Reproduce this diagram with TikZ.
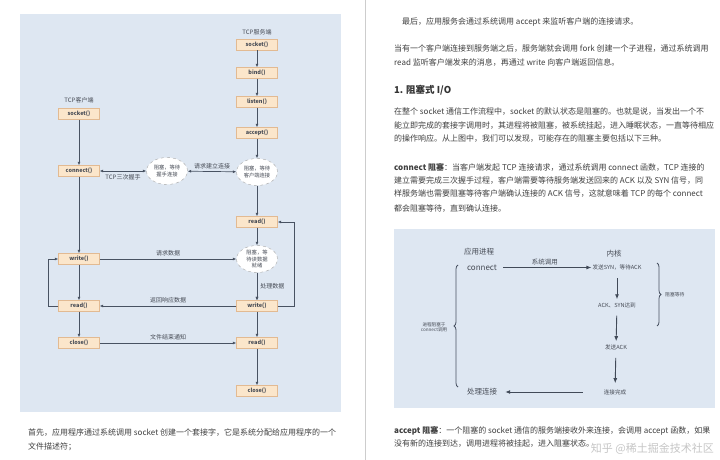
\documentclass[tikz,border=0pt]{standalone}
\usepackage{fontspec}
\setmainfont{Noto Sans CJK SC}
\usetikzlibrary{arrows.meta,positioning,shapes.geometric,decorations.pathreplacing}
\definecolor{diagbg}{RGB}{222,231,242}
\definecolor{boxfill}{RGB}{251,230,203}
\definecolor{boxline}{RGB}{226,186,146}
\definecolor{arrowc}{RGB}{72,82,98}
\definecolor{txtdark}{RGB}{70,75,85}
\definecolor{bodytxt}{RGB}{64,64,64}
\definecolor{pageline}{RGB}{205,205,205}

\begin{document}
\begin{tikzpicture}[x=1pt,y=-1pt,
  callbox/.style={draw=boxline,fill=boxfill,minimum width=41pt,minimum height=11pt,inner sep=0pt,
    font=\fontsize{5.5}{6}\selectfont\bfseries,text=txtdark},
  waitell/.style={ellipse,draw=gray!70,dashed,fill=white,minimum width=41pt,minimum height=27pt,
    inner sep=0pt,align=center,font=\fontsize{5.3}{6.2}\selectfont,text=txtdark},
  flow/.style={-{Latex[length=3.5pt,width=3pt]},draw=arrowc,line width=0.7pt},
  biflow/.style={{Latex[length=3.5pt,width=3pt]}-{Latex[length=3.5pt,width=3pt]},draw=arrowc,line width=0.7pt},
  bigflow/.style={-{Latex[length=5pt,width=4pt]},draw=arrowc!90!black,line width=0.9pt},
  lbl/.style={font=\fontsize{6}{7}\selectfont,text=txtdark,inner sep=1pt},
  klbl/.style={font=\fontsize{5.6}{6.5}\selectfont,text=txtdark,inner sep=1pt},
  para/.style={anchor=west,font=\fontsize{8}{10}\selectfont,text=bodytxt,inner sep=0pt},
  brace/.style={decorate,decoration={brace,amplitude=4pt},draw=arrowc,line width=0.8pt}]
\useasboundingbox (0,0) rectangle (720,460);
\fill[white] (0,0) rectangle (720,460);
\draw[pageline,line width=0.8pt] (365,0) -- (365,460);

% left page: socket flow
\fill[diagbg] (20,14) rectangle (341,412);
\node[lbl] (srvtitle) at (257,32) {TCP服务端};
\node[callbox] (ssock) at (257,44.5) {socket()};
\node[callbox] (sbind) at (257,73) {bind()};
\node[callbox] (slisten) at (257,102) {listen()};
\node[callbox] (saccept) at (257,133) {accept()};
\node[waitell] (swait1) at (257,172) {阻塞，等待\\客户端连接};
\node[callbox] (sread1) at (257,222) {read()};
\node[waitell] (swait2) at (257,259) {阻塞，等\\待读数据\\就绪};
\node[callbox] (swrite) at (257,306) {write()};
\node[callbox] (sread2) at (257,343) {read()};
\node[callbox] (sclose) at (257,391) {close()};

\node[lbl] (clititle) at (79,100) {TCP客户端};
\node[callbox] (csock) at (79,114) {socket()};
\node[callbox] (cconn) at (79,171) {connect()};
\node[waitell] (cwait) at (167,171) {阻塞，等待\\握手连接};
\node[callbox] (cwrite) at (79,259) {write()};
\node[callbox] (cread) at (79,306) {read()};
\node[callbox] (cclose) at (79,343) {close()};

\foreach \a/\b in {ssock/sbind,sbind/slisten,slisten/saccept,saccept/swait1,swait1/sread1,
    sread1/swait2,swait2/swrite,swrite/sread2,sread2/sclose,
    csock/cconn,cconn/cwrite,cwrite/cread,cread/cclose}
  \draw[flow] (\a) -- (\b);
\draw[flow] (swait2) -- node[lbl,right=2pt] {处理数据} (swrite);

\draw[biflow] (cconn) -- node[lbl,below=2pt] {TCP三次握手} (cwait);
\draw[biflow] (cwait) -- node[lbl,above=1pt] {请求建立连接} (swait1);
\draw[flow] (cwrite) -- node[lbl,above=2pt] {请求数据} (swait2);
\draw[flow] (swrite) -- node[lbl,above=2pt] {返回响应数据} (cread);
\draw[flow] (cclose) -- node[lbl,above=2pt] {文件结束通知} (sread2);
\draw[flow] (cread.west) -- ++(-10,0) |- (cwrite.west);
\draw[flow] (swrite.east) -- ++(17,0) |- (sread1.east);

\node[para] (cap1) at (28,433) {首先，应用程序通过系统调用 socket 创建一个套接字，它是系统分配给应用程序的一个};
\node[para] (cap2) at (28,447) {文件描述符；};

% right page
\node[para] (r1) at (402,22) {最后，应用服务会通过系统调用 accept 来监听客户端的连接请求。};
\node[para] (r2) at (394,49) {当有一个客户端连接到服务端之后，服务端就会调用 fork 创建一个子进程，通过系统调用};
\node[para] (r3) at (394,63) {read 监听客户端发来的消息，再通过 write 向客户端返回信息。};
\node[para,font=\fontsize{9.5}{11}\selectfont\bfseries,text=black!80] (head) at (394,90) {1. 阻塞式 I/O};
\node[para] (r4) at (394,112) {在整个 socket 通信工作流程中，socket 的默认状态是阻塞的。也就是说，当发出一个不};
\node[para] (r5) at (394,126) {能立即完成的套接字调用时，其进程将被阻塞，被系统挂起，进入睡眠状态，一直等待相应};
\node[para] (r6) at (394,139) {的操作响应。从上图中，我们可以发现，可能存在的阻塞主要包括以下三种。};
\node[para] (r7) at (394,167) {\textbf{connect 阻塞}：当客户端发起 TCP 连接请求，通过系统调用 connect 函数，TCP 连接的};
\node[para] (r8) at (394,181) {建立需要完成三次握手过程，客户端需要等待服务端发送回来的 ACK 以及 SYN 信号，同};
\node[para] (r9) at (394,194) {样服务端也需要阻塞等待客户端确认连接的 ACK 信号，这就意味着 TCP 的每个 connect};
\node[para] (r10) at (394,209) {都会阻塞等待，直到确认连接。};

% connect blocking
\fill[diagbg] (394,229) rectangle (715,408);
\node[lbl,font=\fontsize{7.5}{8}\selectfont] (apptitle) at (479,252) {应用进程};
\node[lbl,font=\fontsize{8}{9}\selectfont] (apcon) at (482,267.5) {connect};
\node[lbl,font=\fontsize{7.5}{8}\selectfont] (kertitle) at (614,254) {内核};
\node[klbl] (ksyn) at (617,267.5) {发送SYN，等待ACK};
\node[klbl] (kack) at (617,305) {ACK、SYN达到};
\node[klbl] (ksend) at (616,347) {发送ACK};
\node[klbl] (kdone) at (615,392) {连接完成};
\node[lbl,font=\fontsize{7.5}{8}\selectfont] (aphandle) at (482,392) {处理连接};
\draw[bigflow,shorten <=5pt] (apcon) -- node[lbl,font=\fontsize{6.5}{7}\selectfont,above=1pt] {系统调用} (ksyn);
\draw[bigflow,shorten <=7pt,shorten >=2pt] (ksyn) -- (kack);
\draw[bigflow,shorten <=7pt,shorten >=2pt] (kack) -- (ksend);
\draw[bigflow,shorten <=7pt,shorten >=5pt] (ksend) -- (kdone);
\draw[bigflow,shorten <=20pt,shorten >=7pt] (kdone) -- (aphandle);
\draw[brace] (458,387) -- (458,265);
\node[klbl,font=\fontsize{4.6}{5.5}\selectfont,align=center] (appblock) at (434,327) {进程阻塞于\\connect调用};
\draw[brace] (657,263) -- (657,326);
\node[klbl,font=\fontsize{4.8}{5.5}\selectfont,anchor=west] (kerblock) at (664,295) {阻塞等待};

\node[para] (r11) at (394,431) {\textbf{accept 阻塞}：一个阻塞的 socket 通信的服务端接收外来连接，会调用 accept 函数，如果};
\node[para] (r12) at (394,444) {没有新的连接到达，调用进程将被挂起，进入阻塞状态。};
\node[font=\fontsize{11}{12}\selectfont,text=gray,opacity=0.45,anchor=east,inner sep=0pt] (mark) at (714,449) {知乎 @稀土掘金技术社区};
\end{tikzpicture}
\end{document}
